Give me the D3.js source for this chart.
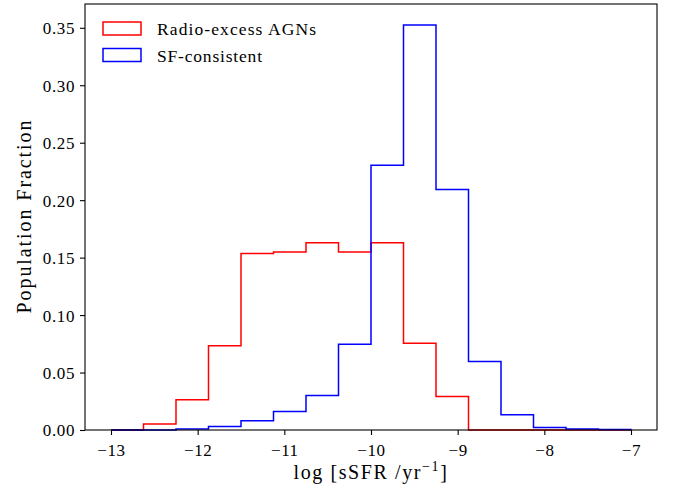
<!DOCTYPE html>
<html lang="en">
<head>
    <meta charset="UTF-8">
    <title>sSFR histogram</title>
    <style>
        body { margin: 0; background: #fff; }
        svg text { font-family: "Liberation Serif", "DejaVu Serif", serif; fill: #000; }
        .tick-label { font-size: 17px; letter-spacing: 0.6px; }
        .axis-label { font-size: 20px; }
        .legend-label { font-size: 17.5px; }
    </style>
</head>
<body>
    <svg id="chart" width="676" height="491"></svg>

    <script src="https://d3js.org/d3.v7.min.js"></script>
    <script>
        // bin edges (same for both histograms)
        const edges = [-13, -12.625, -12.25, -11.875, -11.5, -11.125, -10.75, -10.375,
                       -10, -9.625, -9.25, -8.875, -8.5, -8.125, -7.75, -7.375, -7];

        const radioAGN = [0, 0.0052, 0.0263, 0.0734, 0.1536, 0.155, 0.163, 0.155,
                          0.163, 0.0755, 0.0292, 0, 0, 0, 0, 0];
        const sfConsistent = [0, 0, 0.0009, 0.003, 0.0081, 0.0162, 0.030, 0.0746,
                              0.2303, 0.3524, 0.2092, 0.0596, 0.0133, 0.0022, 0.0008, 0.0004];

        const seriesNames = ["Radio-excess AGNs", "SF-consistent"];
        const seriesColors = ["#ff0000", "#0000ff"];

        const xTicks = [-13, -12, -11, -10, -9, -8, -7];
        const yTicks = [0, 0.05, 0.10, 0.15, 0.20, 0.25, 0.30, 0.35];

        const width = 676;
        const height = 491;
        const margin = { top: 4, right: 19, bottom: 61, left: 85 };

        // text widths to mimic the wider LaTeX font
        const legendWidths = [159, 105];

        const svg = d3.select("#chart");

        const x = d3.scaleLinear()
            .domain([-13.3, -6.7])
            .range([margin.left, width - margin.right]);

        const y = d3.scaleLinear()
            .domain([0, 0.3707])
            .range([height - margin.bottom, margin.top]);

        // outline of a step histogram
        function stepPoints(vals) {
            const pts = [[edges[0], 0]];
            vals.forEach((v, i) => {
                pts.push([edges[i], v]);
                pts.push([edges[i + 1], v]);
            });
            pts.push([edges[edges.length - 1], 0]);
            return pts;
        }

        const line = d3.line()
            .x(d => x(d[0]))
            .y(d => y(d[1]));

        [radioAGN, sfConsistent].forEach((vals, i) => {
            svg.append("path")
                .attr("d", line(stepPoints(vals)))
                .attr("fill", "none")
                .attr("stroke", seriesColors[i])
                .attr("stroke-width", 1.5)
                .attr("stroke-linejoin", "miter");
        });

        // axes
        const xAxis = svg.append("g")
            .attr("transform", `translate(0,${height - margin.bottom})`)
            .call(d3.axisBottom(x).tickValues(xTicks).tickSize(5).tickPadding(5)
                .tickFormat(d => d < 0 ? "\u2212" + Math.abs(d) : d));

        const yAxis = svg.append("g")
            .attr("transform", `translate(${margin.left},0)`)
            .call(d3.axisLeft(y).tickValues(yTicks).tickSize(5).tickPadding(5)
                .tickFormat(d3.format(".2f")));

        [xAxis, yAxis].forEach(g => {
            g.select(".domain").remove();
            g.selectAll(".tick line").attr("stroke", "#000").attr("stroke-width", 1.1);
            g.selectAll(".tick text").attr("class", "tick-label").attr("font-family", null).attr("font-size", null);
        });
        xAxis.selectAll(".tick text").attr("dy", "0.95em");
        yAxis.selectAll(".tick text").attr("dy", "0.35em");

        // frame
        svg.append("rect")
            .attr("x", margin.left)
            .attr("y", margin.top)
            .attr("width", width - margin.left - margin.right)
            .attr("height", height - margin.top - margin.bottom)
            .attr("fill", "none")
            .attr("stroke", "#000")
            .attr("stroke-width", 1.1);

        // axis labels
        const xl = svg.append("text")
            .attr("class", "axis-label")
            .attr("x", (margin.left + width - margin.right) / 2)
            .attr("y", 479)
            .attr("text-anchor", "middle")
            .style("letter-spacing", "1.6px");
        xl.append("tspan").text("log [sSFR /yr");
        xl.append("tspan").attr("dy", -8).attr("font-size", 14).text("\u22121");
        xl.append("tspan").attr("dy", 8).text("]");

        svg.append("text")
            .attr("class", "axis-label")
            .attr("transform", `translate(31,${(margin.top + height - margin.bottom) / 2}) rotate(-90)`)
            .attr("text-anchor", "middle")
            .attr("textLength", 193)
            .attr("lengthAdjust", "spacing")
            .text("Population Fraction");

        // legend
        const legend = svg.append("g");
        seriesNames.forEach((name, i) => {
            const row = legend.append("g").attr("transform", `translate(103,${22 + i * 26.5})`);
            row.append("rect")
                .attr("width", 38)
                .attr("height", 13)
                .attr("fill", "none")
                .attr("stroke", seriesColors[i])
                .attr("stroke-width", 1.5);
            row.append("text")
                .attr("class", "legend-label")
                .attr("x", 54)
                .attr("y", 13)
                .attr("textLength", legendWidths[i])
                .attr("lengthAdjust", "spacing")
                .text(name);
        });
    </script>
</body>
</html>
